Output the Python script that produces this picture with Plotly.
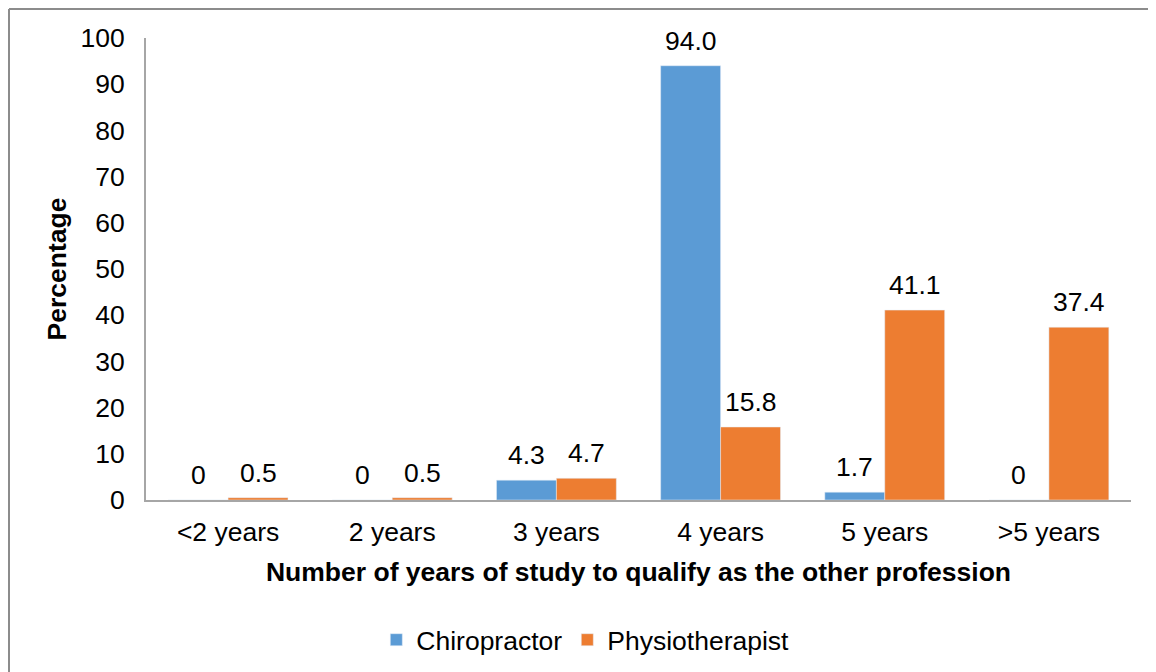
import plotly.graph_objects as go

categories = ["<2 years", "2 years", "3 years", "4 years", "5 years", ">5 years"]
chiropractor = [0, 0, 4.3, 94.0, 1.7, 0]
physiotherapist = [0.5, 0.5, 4.7, 15.8, 41.1, 37.4]
chiro_labels = ["0", "0", "4.3", "94.0", "1.7", "0"]
physio_labels = ["0.5", "0.5", "4.7", "15.8", "41.1", "37.4"]

font_family = "Liberation Sans, Arial, sans-serif"
fsize = 26.5

fig = go.Figure()
fig.add_trace(go.Bar(x=categories, y=chiropractor, name="Chiropractor",
                     marker_color="#5B9BD5"))
fig.add_trace(go.Bar(x=categories, y=physiotherapist, name="Physiotherapist",
                     marker_color="#ED7D31"))

# value labels, a bit above each bar (excel style)
for cat, val, lab in zip(categories, chiropractor, chiro_labels):
    fig.add_annotation(x=cat, y=val, text=lab, showarrow=False,
                       xshift=-30, yshift=8, yanchor="bottom")
for cat, val, lab in zip(categories, physiotherapist, physio_labels):
    fig.add_annotation(x=cat, y=val, text=lab, showarrow=False,
                       xshift=30, yshift=8, yanchor="bottom")

# grey frame: only top and left edges are on the page
frame_left = -137 / 985
frame_top = 1 + 29 / 462
fig.add_shape(type="line", xref="paper", yref="paper",
              x0=frame_left, x1=1.2, y0=frame_top, y1=frame_top,
              line=dict(color="#8C8C8C", width=2), layer="below")
fig.add_shape(type="line", xref="paper", yref="paper",
              x0=frame_left, x1=frame_left, y0=frame_top, y1=-0.6,
              line=dict(color="#8C8C8C", width=2), layer="below")

fig.update_layout(
    width=1148, height=664,
    margin=dict(l=138, r=25, t=30, b=172, autoexpand=False),
    paper_bgcolor="white", plot_bgcolor="white",
    font=dict(family=font_family, size=fsize, color="#000000"),
    barmode="group", bargap=0.27, bargroupgap=0,
    showlegend=True,
    legend=dict(orientation="h", x=0.446, xanchor="center",
                y=-0.303, yanchor="middle", font=dict(size=fsize),
                itemwidth=30),
)
fig.update_xaxes(showline=True, linecolor="#A6A6A6", linewidth=2,
                 ticks="", showgrid=False, ticklabelstandoff=7,
                 title=dict(text="<b>Number of years of study to qualify as the other profession</b>",
                            font=dict(size=fsize), standoff=17))
fig.update_yaxes(range=[0, 100], dtick=10, showline=True,
                 linecolor="#A6A6A6", linewidth=2, ticks="",
                 showgrid=False, zeroline=False, ticklabelstandoff=14,
                 title=dict(text="<b>Percentage</b>", font=dict(size=fsize),
                            standoff=6))

fig.write_html("out.html")
